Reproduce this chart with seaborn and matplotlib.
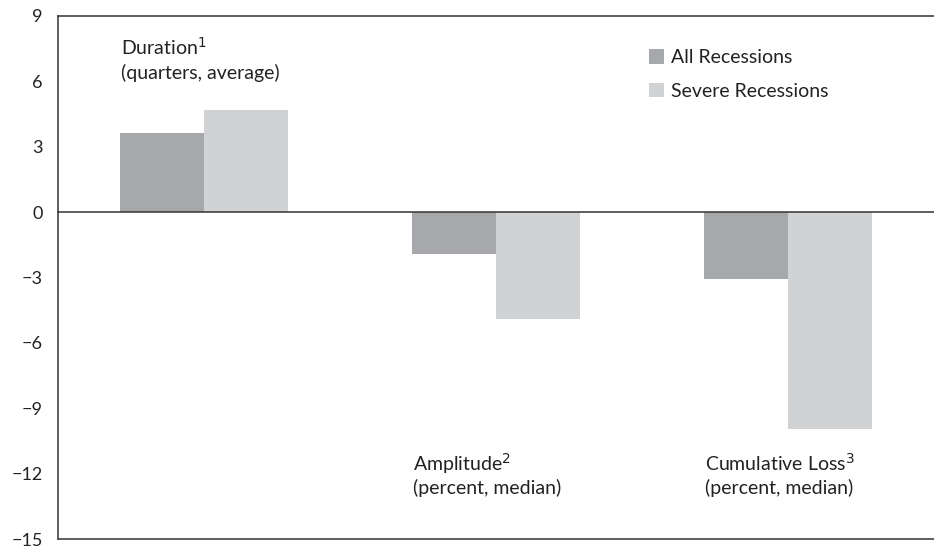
import matplotlib
matplotlib.use("Agg")
import matplotlib.pyplot as plt
import seaborn as sns
import pandas as pd

sns.set_theme(style="white")
plt.rcParams['font.family'] = ['Lato', 'DejaVu Sans']

# data
categories = ["Duration", "Amplitude", "Cumulative Loss"]
all_recessions = [3.65, -1.9, -3.05]
severe_recessions = [4.7, -4.9, -9.95]
series_names = ["All Recessions", "Severe Recessions"]
label_lines = [("Duration$^{1}$", "(quarters, average)"),
               ("Amplitude$^{2}$", "(percent, median)"),
               ("Cumulative Loss$^{3}$", "(percent, median)")]
label_y = [7.2, -11.85, -11.85]
yticks = [9, 6, 3, 0, -3, -6, -9, -12, -15]

df = pd.DataFrame({
    "Category": categories * 2,
    "Value": all_recessions + severe_recessions,
    "Series": [series_names[0]] * 3 + [series_names[1]] * 3,
})

colors = ["#a7a8ab", "#d1d2d4"]
ink = "#333333"

fig = plt.figure(figsize=(9.34, 5.49), dpi=100)
ax = fig.add_axes([0.0621, 0.0182, 0.9379, 0.9527])

sns.barplot(data=df, x="Category", y="Value", hue="Series", order=categories,
            hue_order=series_names, palette=colors, width=0.575,
            errorbar=None, saturation=1, ax=ax, linewidth=0)

ax.set_ylim(-15, 9)
ax.set_xlim(-0.5, 2.5)
ax.set_yticks(yticks)
ax.set_yticklabels([str(t).replace("-", "\u2212") for t in yticks])
ax.set_xlabel("")
ax.set_ylabel("")

# zero line carries the category separators
ax.spines["bottom"].set_position(("data", 0))
ax.set_xticks([0.5, 1.5])
ax.set_xticklabels(["", ""])
ax.axhline(-15, color=ink, lw=1.1, clip_on=False)
for side in ["left", "top", "bottom"]:
    ax.spines[side].set_color(ink)
    ax.spines[side].set_linewidth(1.1)
ax.spines["right"].set_visible(False)
ax.tick_params(axis="x", direction="out", length=4, color=ink, width=1)
ax.tick_params(axis="y", direction="out", length=5, color=ink, width=1,
               labelsize=13, labelcolor="#222222", pad=6)

# category labels
for i, (head, sub) in enumerate(label_lines):
    xpos = i - 0.285
    ax.text(xpos, label_y[i], head, fontsize=14, color="#222222", va="baseline")
    ax.text(xpos, label_y[i] - 1.1, sub, fontsize=14, color="#222222", va="baseline")

leg = ax.legend(loc="upper left", bbox_to_anchor=(0.655, 0.97), frameon=False,
                fontsize=14, handlelength=0.75, handleheight=0.75,
                handletextpad=0.35, labelspacing=0.85)
for t in leg.get_texts():
    t.set_color("#222222")

fig.savefig("out.png", dpi=100)
